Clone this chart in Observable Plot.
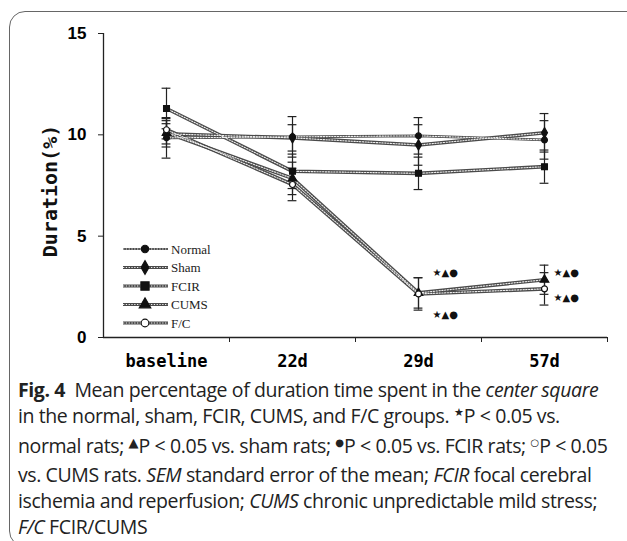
<!DOCTYPE html>
<html>
<head>
<meta charset="utf-8">
<script src="https://cdn.jsdelivr.net/npm/d3@7"></script>
<script src="https://cdn.jsdelivr.net/npm/@observablehq/plot@0.6"></script>
<style>
  html, body { margin: 0; padding: 0; background: #fff; }
  body { width: 627px; height: 541px; position: relative; overflow: hidden; }
  #frame { position: absolute; left: 9px; top: 11px; width: 660px; height: 536px;
           border: 1.3px solid #666; border-radius: 16px; box-sizing: border-box; }
  #chart { position: absolute; left: 0; top: 0; }
  #ylabel { position: absolute; left: -50px; top: 179px; width: 200px; height: 24px; line-height: 24px;
            text-align: center; transform: rotate(-90deg); font-family: "DejaVu Sans Mono", monospace;
            font-weight: bold; font-size: 20px; color: #111; }
  #legend { position: absolute; left: 118px; top: 239px; }
  #caption { position: absolute; left: 18px; top: 377px; font-family: "Open Sans", sans-serif;
             font-size: 19.5px; line-height: 25.8px; color: #222; white-space: nowrap; letter-spacing: -0.4px; }
  #caption b { font-weight: 700; }
  #caption .sym { font-family: "DejaVu Sans", sans-serif; font-size: 10px; position: relative; top: -7px; letter-spacing: 0; }
  #caption .sym.tri { font-size: 13px; top: -6px; }
  #caption .sym.star { font-size: 11px; top: -7px; }
</style>
</head>
<body>
<div id="frame"></div>
<div id="chart"></div>
<div id="ylabel"></div>
<div id="legend"></div>
<div id="caption"><b>Fig. 4</b>&nbsp; Mean percentage of duration time spent in the <i>center square</i><br>in the normal, sham, FCIR, CUMS, and F/C groups. <span class="sym star">★</span>P &lt; 0.05 vs.<br>normal rats; <span class="sym tri">▲</span>P &lt; 0.05 vs. sham rats; <span class="sym">●</span>P &lt; 0.05 vs. FCIR rats; <span class="sym">○</span>P &lt; 0.05<br>vs. CUMS rats. <i>SEM</i> standard error of the mean; <i>FCIR</i> focal cerebral<br>ischemia and reperfusion; <i>CUMS</i> chronic unpredictable mild stress;<br><i>F/C</i> FCIR/CUMS</div>
<script>
// ---- data ----
const categories = ["baseline", "22d", "29d", "57d"];
const seriesNames = ["Normal", "Sham", "FCIR", "CUMS", "F/C"];
const normalMean = [9.85, 9.9, 9.95, 9.75];
const normalSem  = [1.0, 1.0, 0.9, 0.95];
const shamMean   = [10.05, 9.85, 9.5, 10.1];
const shamSem    = [0.5, 0.65, 1.0, 0.95];
const fcirMean   = [11.3, 8.2, 8.1, 8.43];
const fcirSem    = [1.0, 0.85, 0.8, 0.82];
const cumsMean   = [10.1, 7.85, 2.2, 2.85];
const cumsSem    = [0.7, 0.8, 0.75, 0.72];
const fcMean     = [10.25, 7.55, 2.15, 2.4];
const fcSem      = [0.45, 0.8, 0.8, 0.8];
const yTicks = [0, 5, 10, 15];
const yLabel = "Duration(%)";
const sigText = "★▲●";
const sigMarks = [
  {cat: "29d", v: 3.2}, {cat: "29d", v: 1.13},
  {cat: "57d", v: 3.2}, {cat: "57d", v: 1.96}
];

// ---- build table ----
const means = [normalMean, shamMean, fcirMean, cumsMean, fcMean];
const sems = [normalSem, shamSem, fcirSem, cumsSem, fcSem];
const symbols = {Normal: "circle", Sham: "diamond", FCIR: "square", CUMS: "triangle", "F/C": "circle"};
const radius = {Normal: 4.6, Sham: 5.2, FCIR: 5.8, CUMS: 5.4, "F/C": 4.8};
const fills = {Normal: "#111", Sham: "#111", FCIR: "#111", CUMS: "#111", "F/C": "#fff"};
const data = [];
seriesNames.forEach((s, k) => categories.forEach((c, i) => {
  data.push({series: s, i, v: means[k][i], e: sems[k][i]});
}));
const sig = sigMarks.map(d => ({...d, i: categories.indexOf(d.cat)}));
const xDomain = [-0.5, categories.length - 0.5];
const bounds = categories.map((_, i) => i + 0.5);
const centers = categories.map((_, i) => i);
const cap = 0.035;

document.getElementById("ylabel").textContent = yLabel;

const chart = Plot.plot({
  width: 627, height: 375,
  marginLeft: 103, marginRight: 20, marginTop: 33, marginBottom: 38,
  x: {type: "linear", domain: xDomain},
  y: {domain: [0, 15]},
  style: {background: "transparent"},
  marks: [
    Plot.ruleY([0], {stroke: "#222", strokeWidth: 1.3}),
    Plot.ruleX([xDomain[0]], {stroke: "#222", strokeWidth: 1.3}),
    Plot.axisY({ticks: yTicks, tickSize: 5, tickPadding: 12, label: null, fontSize: 17,
                fontWeight: "bold", fontFamily: "Liberation Sans, Arial, sans-serif", stroke: "#222"}),
    Plot.axisX({ticks: bounds, tickSize: 5, tickFormat: () => "", label: null, stroke: "#222"}),
    Plot.axisX({ticks: centers, tickSize: 0, tickPadding: 17, tickFormat: i => categories[i], label: null,
                fontSize: 17, fontWeight: "bold", fontFamily: "DejaVu Sans Mono, monospace"}),
    // chain-like lines
    Plot.line(data, {x: "i", y: "v", z: "series", stroke: "#4a4a4a",
                     strokeWidth: d => d.series === "Normal" ? 2.6 : 3.6}),
    Plot.line(data, {x: "i", y: "v", z: "series", stroke: "#eeeeee", strokeWidth: 1.1, strokeDasharray: "1.3,1.5"}),
    // error bars
    Plot.ruleX(data, {x: "i", y1: d => d.v - d.e, y2: d => d.v + d.e, stroke: "#222", strokeWidth: 1.2}),
    Plot.ruleY(data, {y: d => d.v + d.e, x1: d => d.i - cap, x2: d => d.i + cap, stroke: "#222", strokeWidth: 1.2}),
    Plot.ruleY(data, {y: d => d.v - d.e, x1: d => d.i - cap, x2: d => d.i + cap, stroke: "#222", strokeWidth: 1.2}),
    // markers
    Plot.dot(data, {x: "i", y: "v", symbol: d => symbols[d.series], r: d => radius[d.series],
                    fill: d => fills[d.series], stroke: "#111", strokeWidth: 1.2}),
    // significance marks
    Plot.text(sig.filter(d => d.cat === "29d"), {x: "i", y: "v", text: () => sigText, dx: 14, textAnchor: "start",
              fontSize: 10, fill: "#111", fontFamily: "DejaVu Sans, sans-serif"}),
    Plot.text(sig.filter(d => d.cat === "57d"), {x: "i", y: "v", text: () => sigText, dx: 9, textAnchor: "start",
              fontSize: 10, fill: "#111", fontFamily: "DejaVu Sans, sans-serif"})
  ]
});
document.getElementById("chart").appendChild(chart);

// ---- legend ----
const lw = 120, rowH = 18.5;
const svg = d3.select("#legend").append("svg").attr("width", lw).attr("height", seriesNames.length * rowH + 6);
const symMap = {circle: d3.symbolCircle, diamond: d3.symbolDiamond, square: d3.symbolSquare, triangle: d3.symbolTriangle};
seriesNames.forEach((s, k) => {
  const g = svg.append("g").attr("transform", `translate(0,${10 + k * rowH})`);
  g.append("line").attr("x1", 5).attr("x2", 50).attr("stroke", "#4a4a4a").attr("stroke-width", s === "Normal" ? 2.2 : 3.2);
  g.append("line").attr("x1", 5).attr("x2", 50).attr("stroke", "#eeeeee").attr("stroke-width", 1).attr("stroke-dasharray", "1.3,1.5");
  const r = radius[s] * 0.8;
  g.append("path").attr("transform", "translate(27,0)")
    .attr("d", d3.symbol(symMap[symbols[s]], Math.PI * r * r)())
    .attr("fill", fills[s]).attr("stroke", "#111").attr("stroke-width", 1.1);
  g.append("text").attr("x", 53).attr("y", 4.5).text(s)
    .attr("font-family", "Liberation Serif, serif").attr("font-size", 13).attr("fill", "#222");
});
</script>
</body>
</html>
